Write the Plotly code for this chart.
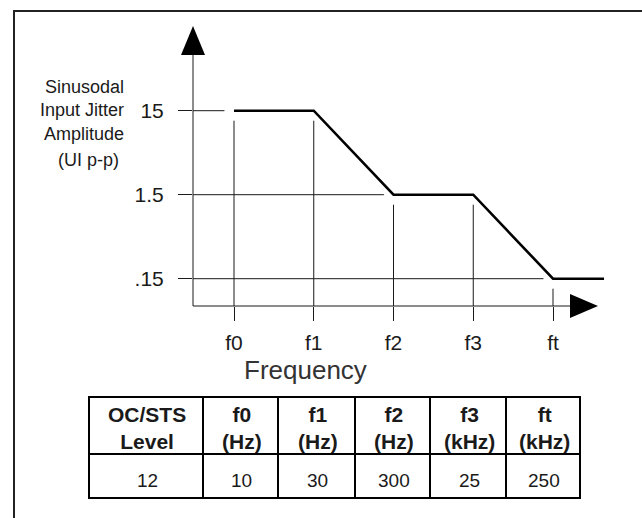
import math
import plotly.graph_objects as go

# ---------------- data ----------------
freq_labels = ["f0", "f1", "f2", "f3", "ft"]
freq_index = [0, 1, 2, 3, 4]
mask_x = [0, 1, 2, 3, 4, 4.64]
mask_y = [15, 15, 1.5, 1.5, 0.15, 0.15]
amp_levels = [15, 1.5, 0.15]
amp_labels = ["15", "1.5", ".15"]
table_header = ["OC/STS<br>Level", "f0<br>(Hz)", "f1<br>(Hz)", "f2<br>(Hz)", "f3<br>(kHz)", "ft<br>(kHz)"]
table_row = ["12", "10", "30", "300", "25", "250"]

# ---------------- layout geometry (pixels) ----------------
W, H = 642, 518
X_LEFT, X_RIGHT, Y_TOP, Y_BOT = 193, 610, 40, 306
F0_PX, F_STEP = 234, 79.75
L15_PX, DEC_PX = 110.7, 84.0
FONT = "Liberation Sans, Arial, sans-serif"
INK = "#1a1a1a"

# table geometry
T_LEFT, T_TOP, T_HEAD, T_BOT = 89, 397, 454, 498
COL_W = [114, 75, 77, 75, 76, 74]

xr = [(X_LEFT - F0_PX) / F_STEP, (X_RIGHT - F0_PX) / F_STEP]
yr = [math.log10(15) - (Y_BOT - L15_PX) / DEC_PX, math.log10(15) + (L15_PX - Y_TOP) / DEC_PX]
GAP_X = 0.12
GAP_Y = 10 ** (-10 / DEC_PX)


def px(x):
    return x / W


def py(y):
    return 1 - y / H


fig = go.Figure()

# partial horizontal grid lines, ending just before the mask reaches the level
for lvl in amp_levels:
    idx = mask_y.index(lvl)
    fig.add_trace(go.Scatter(x=[xr[0], mask_x[idx] - GAP_X], y=[lvl, lvl], mode="lines",
                             line=dict(color=INK, width=1), hoverinfo="skip", showlegend=False))

# vertical frequency lines, starting just below the mask
for i in freq_index:
    fig.add_trace(go.Scatter(x=[i, i], y=[mask_y[i] * GAP_Y, 10 ** yr[0]], mode="lines",
                             line=dict(color=INK, width=1), hoverinfo="skip", showlegend=False))

# jitter tolerance mask
fig.add_trace(go.Scatter(x=mask_x, y=mask_y, mode="lines",
                         line=dict(color="black", width=2.6), hoverinfo="skip", showlegend=False))

shapes = [
    # outer frame
    dict(type="path", xref="paper", yref="paper",
         path=f"M {px(700)},{py(11)} L {px(14)},{py(11)} L {px(14)},{py(560)}",
         line=dict(color="#222222", width=2)),
    # axis lines
    dict(type="line", xref="paper", yref="paper", x0=px(X_LEFT), y0=py(Y_BOT), x1=px(572), y1=py(Y_BOT),
         line=dict(color=INK, width=1)),
    dict(type="line", xref="paper", yref="paper", x0=px(X_LEFT), y0=py(Y_BOT), x1=px(X_LEFT), y1=py(52),
         line=dict(color=INK, width=1)),
    # arrow heads
    dict(type="path", xref="paper", yref="paper",
         path=f"M {px(193)},{py(26)} L {px(205)},{py(55)} L {px(181)},{py(55)} Z",
         fillcolor="black", line=dict(color="black", width=0)),
    dict(type="path", xref="paper", yref="paper",
         path=f"M {px(598)},{py(306)} L {px(570)},{py(294)} L {px(570)},{py(318)} Z",
         fillcolor="black", line=dict(color="black", width=0)),
]

annotations = [
    dict(text="Sinusodal<br>Input Jitter<br>Amplitude", xref="paper", yref="paper",
         x=px(126), y=py(110), xanchor="right", yanchor="middle", align="right", showarrow=False,
         font=dict(family=FONT, size=18, color=INK)),
    dict(text="(UI p-p)", xref="paper", yref="paper", x=px(121), y=py(160),
         xanchor="right", yanchor="middle", showarrow=False,
         font=dict(family=FONT, size=18, color=INK)),
    dict(text="Frequency", xref="paper", yref="paper", x=px(305), y=py(370),
         xanchor="center", yanchor="middle", showarrow=False,
         font=dict(family=FONT, size=26, color="#333333")),
]

# table built from the header / row lists
edges = [T_LEFT]
for w in COL_W:
    edges.append(edges[-1] + w)
tline = dict(color="black", width=2)
shapes.append(dict(type="rect", xref="paper", yref="paper", x0=px(edges[0]), x1=px(edges[-1]),
                   y0=py(T_BOT), y1=py(T_TOP), line=tline))
shapes.append(dict(type="line", xref="paper", yref="paper", x0=px(edges[0]), x1=px(edges[-1]),
                   y0=py(T_HEAD), y1=py(T_HEAD), line=tline))
for e in edges[1:-1]:
    shapes.append(dict(type="line", xref="paper", yref="paper", x0=px(e), x1=px(e),
                       y0=py(T_BOT), y1=py(T_TOP), line=tline))
for j, (hdr, val) in enumerate(zip(table_header, table_row)):
    cx = (edges[j] + edges[j + 1]) / 2
    annotations.append(dict(text="<br>".join("<b>%s</b>" % s for s in hdr.split("<br>")),
                            xref="paper", yref="paper", x=px(cx + 1), y=py((T_TOP + T_HEAD) / 2 + 2),
                            xanchor="center", yanchor="middle", align="center", showarrow=False,
                            font=dict(family=FONT, size=21, color=INK)))
    annotations.append(dict(text=val, xref="paper", yref="paper", x=px(cx + 1), y=py((T_HEAD + T_BOT) / 2 + 4),
                            xanchor="center", yanchor="middle", showarrow=False,
                            font=dict(family=FONT, size=19, color=INK)))

fig.update_layout(
    width=W, height=H, margin=dict(l=0, r=0, t=0, b=0),
    paper_bgcolor="white", plot_bgcolor="white",
    font=dict(family=FONT, color=INK),
    shapes=shapes, annotations=annotations,
    xaxis=dict(domain=[px(X_LEFT), px(X_RIGHT)], range=xr, showgrid=False, zeroline=False,
               showline=False, ticks="outside", ticklen=14, tickwidth=1, tickcolor=INK,
               tickvals=freq_index, ticktext=freq_labels, ticklabelstandoff=4,
               tickfont=dict(family=FONT, size=21, color=INK), automargin=False, fixedrange=True),
    yaxis=dict(type="log", domain=[py(Y_BOT), py(Y_TOP)], range=yr, showgrid=False, zeroline=False,
               showline=False, ticks="outside", ticklen=14, tickwidth=1, tickcolor=INK,
               tickvals=amp_levels, ticktext=amp_labels, ticklabelstandoff=10,
               tickfont=dict(family=FONT, size=21, color=INK), automargin=False, fixedrange=True),
)

fig.write_html("out.html", config=dict(displayModeBar=False),
               post_script="document.body.style.margin='0';document.body.style.overflow='hidden';")
